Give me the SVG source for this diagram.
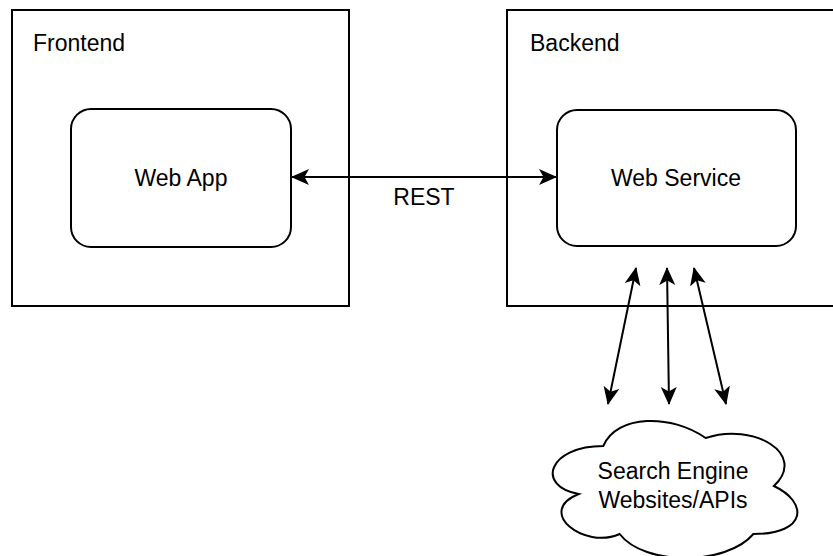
<svg xmlns="http://www.w3.org/2000/svg" width="833" height="556" viewBox="0 0 833 556">
<style>
.box{fill:#fff;stroke:#000;stroke-width:2}
.node{fill:#fff;stroke:#000;stroke-width:2}
.lbl{font-family:"Liberation Sans",Arial,Helvetica,sans-serif;font-size:23px;fill:#000}
.c{text-anchor:middle}
.conn{fill:none;stroke:#000;stroke-width:2;marker-start:url(#ah);marker-end:url(#ah)}
</style>
<defs>
<marker id="ah" viewBox="0 0 18 18" refX="17" refY="9" markerWidth="18" markerHeight="18" markerUnits="userSpaceOnUse" orient="auto-start-reverse">
<path d="M0,1 L18,9 L0,17 L4.5,9 Z" fill="#000"/>
</marker>
</defs>
<rect width="833" height="556" fill="#fff"/>
<g id="frontend">
<rect class="box" x="12" y="10" width="337" height="296"/>
<text class="lbl" x="33" y="51">Frontend</text>
</g>
<g id="backend">
<rect class="box" x="507" y="10" width="340" height="296"/>
<text class="lbl" x="530" y="51">Backend</text>
</g>
<g id="webapp">
<rect class="node" x="71" y="109" width="220" height="138" rx="20" ry="20"/>
<text class="lbl c" x="181" y="186">Web App</text>
</g>
<g id="webservice">
<rect class="node" x="557" y="110" width="239" height="136" rx="20" ry="20"/>
<text class="lbl c" x="676" y="186">Web Service</text>
</g>
<g id="search">
<path class="node" d="M603.25,446 C548.65,446 535,486 578.68,494 C535,511.6 584.14,550 619.63,534 C644.2,566 726.1,566 753.4,534 C808,534 808,502 773.88,486 C808,454 753.4,422 705.63,438 C671.5,414 616.9,414 603.25,446 Z"/>
<text class="lbl c" x="673" y="479">Search Engine</text>
<text class="lbl c" x="673" y="508">Websites/APIs</text>
</g>
<g id="connectors">
<line class="conn" x1="292" y1="177" x2="556" y2="177"/>
<line class="conn" x1="636" y1="268" x2="608" y2="404"/>
<line class="conn" x1="667" y1="268" x2="669" y2="404"/>
<line class="conn" x1="694" y1="268" x2="726" y2="404"/>
</g>
<g id="rest-label">
<text class="lbl c" x="424" y="205">REST</text>
</g>
</svg>
